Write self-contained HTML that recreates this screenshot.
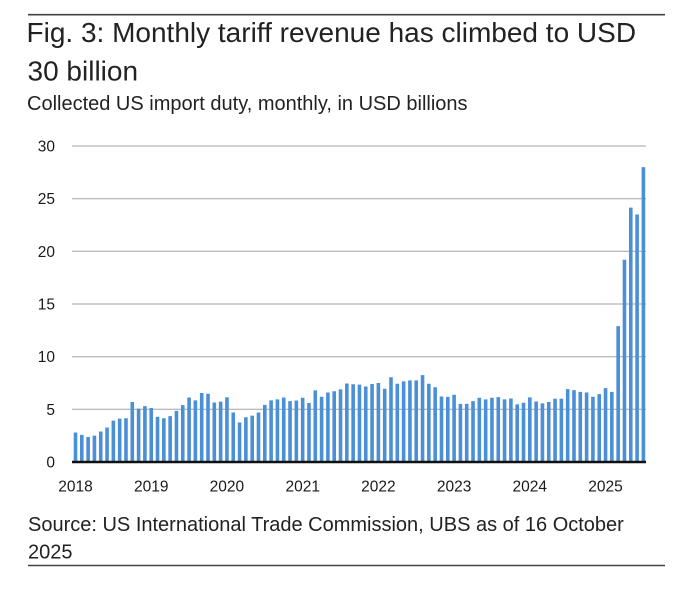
<!DOCTYPE html>
<html><head><meta charset="utf-8"><style>
html,body{margin:0;padding:0;background:#fff;}
svg{display:block;}
text{font-family:"Liberation Sans",Arial,sans-serif;}
</style></head><body>
<svg width="694" height="594" viewBox="0 0 694 594" xmlns="http://www.w3.org/2000/svg">
<rect width="694" height="594" fill="#fff"/>
<line x1="28" y1="14.7" x2="665" y2="14.7" stroke="#444" stroke-width="1.6"/>
<text x="26.5" y="42" font-size="28" fill="#222">Fig. 3: Monthly tariff revenue has climbed to USD</text>
<text x="27.5" y="80.5" font-size="28" fill="#222">30 billion</text>
<text x="27" y="110" font-size="20" fill="#222">Collected US import duty, monthly, in USD billions</text>
<g stroke="#a3a3a3" stroke-width="1">
<line x1="72" y1="146" x2="646" y2="146"/>
<line x1="72" y1="198.7" x2="646" y2="198.7"/>
<line x1="72" y1="251.3" x2="646" y2="251.3"/>
<line x1="72" y1="304" x2="646" y2="304"/>
<line x1="72" y1="356.7" x2="646" y2="356.7"/>
<line x1="72" y1="409.3" x2="646" y2="409.3"/>
</g>
<g font-size="15.5" fill="#1a1a1a" text-anchor="end">
<text x="55" y="151.5">30</text>
<text x="55" y="204.2">25</text>
<text x="55" y="256.8">20</text>
<text x="55" y="309.5">15</text>
<text x="55" y="362.2">10</text>
<text x="55" y="414.8">5</text>
<text x="55" y="467.5">0</text>
</g>
<path fill="#4a8fd8" d="
M73.70 462V432.51h3.6V462z M80.01 462V434.82h3.6V462z M86.32 462V437.04h3.6V462z M92.63 462V435.67h3.6V462z
M98.94 462V431.45h3.6V462z M105.25 462V427.56h3.6V462z M111.56 462V420.61h3.6V462z M117.87 462V418.60h3.6V462z
M124.18 462V418.29h3.6V462z M130.49 462V401.96h3.6V462z M136.80 462V408.60h3.6V462z M143.11 462V406.18h3.6V462z
M149.42 462V407.97h3.6V462z M155.73 462V416.71h3.6V462z M162.04 462V418.29h3.6V462z M168.35 462V416.18h3.6V462z
M174.66 462V410.91h3.6V462z M180.97 462V405.12h3.6V462z M187.28 462V397.54h3.6V462z M193.59 462V400.38h3.6V462z
M199.90 462V393.01h3.6V462z M206.21 462V393.75h3.6V462z M212.52 462V402.49h3.6V462z M218.83 462V401.65h3.6V462z
M225.14 462V397.22h3.6V462z M231.45 462V412.49h3.6V462z M237.76 462V422.50h3.6V462z M244.07 462V417.23h3.6V462z
M250.38 462V415.65h3.6V462z M256.69 462V412.49h3.6V462z M263.00 462V404.91h3.6V462z M269.31 462V400.38h3.6V462z
M275.62 462V399.33h3.6V462z M281.93 462V397.54h3.6V462z M288.24 462V401.12h3.6V462z M294.55 462V400.49h3.6V462z
M300.86 462V397.75h3.6V462z M307.17 462V403.02h3.6V462z M313.48 462V390.38h3.6V462z M319.79 462V396.70h3.6V462z
M326.10 462V392.48h3.6V462z M332.41 462V391.22h3.6V462z M338.72 462V389.32h3.6V462z M345.03 462V383.53h3.6V462z
M351.34 462V384.27h3.6V462z M357.65 462V384.58h3.6V462z M363.96 462V386.48h3.6V462z M370.27 462V384.06h3.6V462z
M376.58 462V383.00h3.6V462z M382.89 462V388.80h3.6V462z M389.20 462V377.21h3.6V462z M395.51 462V383.74h3.6V462z
M401.82 462V381.42h3.6V462z M408.13 462V380.37h3.6V462z M414.44 462V380.37h3.6V462z M420.75 462V375.10h3.6V462z
M427.06 462V383.74h3.6V462z M433.37 462V387.22h3.6V462z M439.68 462V396.48h3.6V462z M445.99 462V396.91h3.6V462z
M452.30 462V394.80h3.6V462z M458.61 462V403.86h3.6V462z M464.92 462V403.86h3.6V462z M471.23 462V401.12h3.6V462z
M477.54 462V397.75h3.6V462z M483.85 462V399.33h3.6V462z M490.16 462V397.75h3.6V462z M496.47 462V397.12h3.6V462z
M502.78 462V399.33h3.6V462z M509.09 462V398.49h3.6V462z M515.40 462V404.38h3.6V462z M521.71 462V402.70h3.6V462z
M528.02 462V397.43h3.6V462z M534.33 462V401.44h3.6V462z M540.64 462V403.33h3.6V462z M546.95 462V401.96h3.6V462z
M553.26 462V398.80h3.6V462z M559.57 462V398.80h3.6V462z M565.88 462V389.11h3.6V462z M572.19 462V390.17h3.6V462z
M578.50 462V391.85h3.6V462z M584.81 462V392.48h3.6V462z M591.12 462V396.80h3.6V462z M597.43 462V394.17h3.6V462z
M603.74 462V388.16h3.6V462z M610.05 462V391.85h3.6V462z M616.36 462V326.12h3.6V462z M622.67 462V259.77h3.6V462z
M628.98 462V207.63h3.6V462z M635.29 462V214.47h3.6V462z M641.60 462V167.08h3.6V462z"/>
<line x1="72" y1="462" x2="646" y2="462" stroke="#111" stroke-width="2.5"/>
<g font-size="15.5" fill="#1a1a1a" text-anchor="middle">
<text x="75.5" y="491.6">2018</text>
<text x="151.2" y="491.6">2019</text>
<text x="226.9" y="491.6">2020</text>
<text x="302.7" y="491.6">2021</text>
<text x="378.4" y="491.6">2022</text>
<text x="454.1" y="491.6">2023</text>
<text x="529.8" y="491.6">2024</text>
<text x="605.5" y="491.6">2025</text>
</g>
<text x="28" y="531" font-size="20" fill="#222">Source: US International Trade Commission, UBS as of 16 October</text>
<text x="28" y="558.3" font-size="20" fill="#222">2025</text>
<line x1="28" y1="565.5" x2="665" y2="565.5" stroke="#444" stroke-width="1.4"/>
</svg>
</body></html>
